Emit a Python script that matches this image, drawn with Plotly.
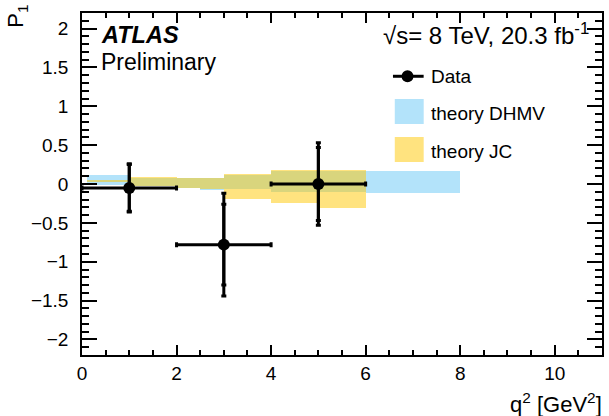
import plotly.graph_objects as go

# Measured P1 in bins of q^2 [GeV^2]
q2_centers = [1.0, 3.0, 5.0]
q2_halfwidth = [1.0, 1.0, 1.0]
p1_values = [-0.05, -0.78, 0.0]
p1_stat = [0.30, 0.52, 0.47]
p1_total = [0.31, 0.66, 0.53]

# theory DHMV prediction band (bin edges, lower and upper edge per bin)
dhmv_edges = [0.1, 1.0, 2.0, 2.5, 3.0, 4.0, 6.0, 8.0]
dhmv_low = [-0.01, -0.02, -0.05, -0.08, -0.07, -0.10, -0.12]
dhmv_high = [0.11, 0.075, 0.08, 0.077, 0.116, 0.17, 0.167]

# theory JC prediction band
jc_edges = [0.1, 1.0, 2.0, 2.5, 3.0, 4.0, 5.0, 6.0]
jc_low = [0.02, -0.02, -0.05, -0.064, -0.19, -0.245, -0.31]
jc_high = [0.05, 0.086, 0.08, 0.08, 0.13, 0.18, 0.18]

FONT = "Liberation Sans, Arial, Helvetica, sans-serif"
BLUE = "rgb(179,227,250)"
YELLOW = "rgba(255,200,0,0.5)"


def band(edges, low, high, color, name):
    mids = [(a + b) / 2 for a, b in zip(edges[:-1], edges[1:])]
    widths = [b - a for a, b in zip(edges[:-1], edges[1:])]
    heights = [h - l for l, h in zip(low, high)]
    return go.Bar(x=mids, y=heights, base=low, width=widths, name=name,
                  marker=dict(color=color, line=dict(width=0)),
                  showlegend=False, hoverinfo="skip")


fig = go.Figure()
fig.add_trace(band(dhmv_edges, dhmv_low, dhmv_high, BLUE, "theory DHMV"))
fig.add_trace(band(jc_edges, jc_low, jc_high, YELLOW, "theory JC"))

# statistical error bars (inner caps)
fig.add_trace(go.Scatter(
    x=q2_centers, y=p1_values, mode="markers",
    marker=dict(size=1, color="black", opacity=0),
    error_y=dict(type="data", array=p1_stat, color="black", thickness=3, width=2.5),
    showlegend=False, hoverinfo="skip"))
# total error bars with bin widths
fig.add_trace(go.Scatter(
    x=q2_centers, y=p1_values, mode="markers", name="Data",
    marker=dict(size=12, color="black"),
    error_x=dict(type="data", array=q2_halfwidth, color="black", thickness=3, width=2.5),
    error_y=dict(type="data", array=p1_total, color="black", thickness=3, width=2.5),
    showlegend=False))

axis_common = dict(
    showgrid=False, zeroline=False, showline=True, linecolor="black", linewidth=1.5,
    mirror="ticks", ticks="inside", tickcolor="black", tickwidth=1.5,
    tickfont=dict(family=FONT, size=19, color="black"),
)
fig.update_xaxes(range=[0, 11], dtick=2, tick0=0, ticklen=10,
                 minor=dict(dtick=0.5, ticks="inside", ticklen=5, tickcolor="black", tickwidth=1.5),
                 **axis_common)
fig.update_yaxes(range=[-2.2, 2.2], dtick=0.5, tick0=0, ticklen=15, ticklabelstandoff=8,
                 minor=dict(dtick=0.1, ticks="inside", ticklen=7.5, tickcolor="black", tickwidth=1.5),
                 **axis_common)

# legend drawn by hand in the upper right
shapes = [
    dict(type="line", xref="paper", yref="paper", x0=0.598, x1=0.657, y0=0.815, y1=0.815,
         line=dict(color="black", width=3)),
    dict(type="circle", xref="paper", yref="paper", x0=0.626 - 0.0115, x1=0.626 + 0.0115,
         y0=0.815 - 0.0175, y1=0.815 + 0.0175, fillcolor="black", line=dict(width=0)),
    dict(type="rect", xref="paper", yref="paper", x0=0.6015, x1=0.6571, y0=0.6754, y1=0.7485,
         fillcolor=BLUE, line=dict(width=0)),
    dict(type="rect", xref="paper", yref="paper", x0=0.6015, x1=0.6571, y0=0.5643, y1=0.6374,
         fillcolor=YELLOW, line=dict(width=0)),
]

ann = [
    dict(text="Data", x=0.668, y=0.8129),
    dict(text="theory DHMV", x=0.668, y=0.7047),
    dict(text="theory JC", x=0.668, y=0.5936),
]
annotations = [dict(a, xref="paper", yref="paper", xanchor="left", yanchor="middle",
                    showarrow=False, font=dict(family=FONT, size=19, color="black"))
               for a in ann]

annotations += [
    dict(text="<b><i>ATLAS</i></b>", x=0.033, y=0.935, xref="paper", yref="paper",
         xanchor="left", yanchor="middle", showarrow=False,
         font=dict(family=FONT, size=23.5, color="black")),
    dict(text="Preliminary", x=0.033, y=0.857, xref="paper", yref="paper",
         xanchor="left", yanchor="middle", showarrow=False,
         font=dict(family=FONT, size=23, color="black")),
    dict(text="√s= 8 TeV, 20.3 fb<sup>-1</sup>", x=0.978, y=0.94, xref="paper", yref="paper",
         xanchor="right", yanchor="middle", showarrow=False,
         font=dict(family=FONT, size=24, color="black")),
    dict(text="P<sub>1</sub>", x=-0.124, y=1.03, xref="paper", yref="paper",
         xanchor="center", yanchor="top", textangle=-90, showarrow=False,
         font=dict(family=FONT, size=22, color="black")),
    dict(text="q<sup>2</sup> [GeV<sup>2</sup>]", x=1.003, y=-0.14, xref="paper", yref="paper",
         xanchor="right", yanchor="middle", showarrow=False,
         font=dict(family=FONT, size=22, color="black")),
]

fig.update_layout(
    width=609, height=416,
    margin=dict(l=82, r=5, t=13, b=61),
    paper_bgcolor="white", plot_bgcolor="white",
    barmode="overlay", bargap=0,
    showlegend=False,
    shapes=shapes, annotations=annotations,
)

fig.write_html("out.html")
